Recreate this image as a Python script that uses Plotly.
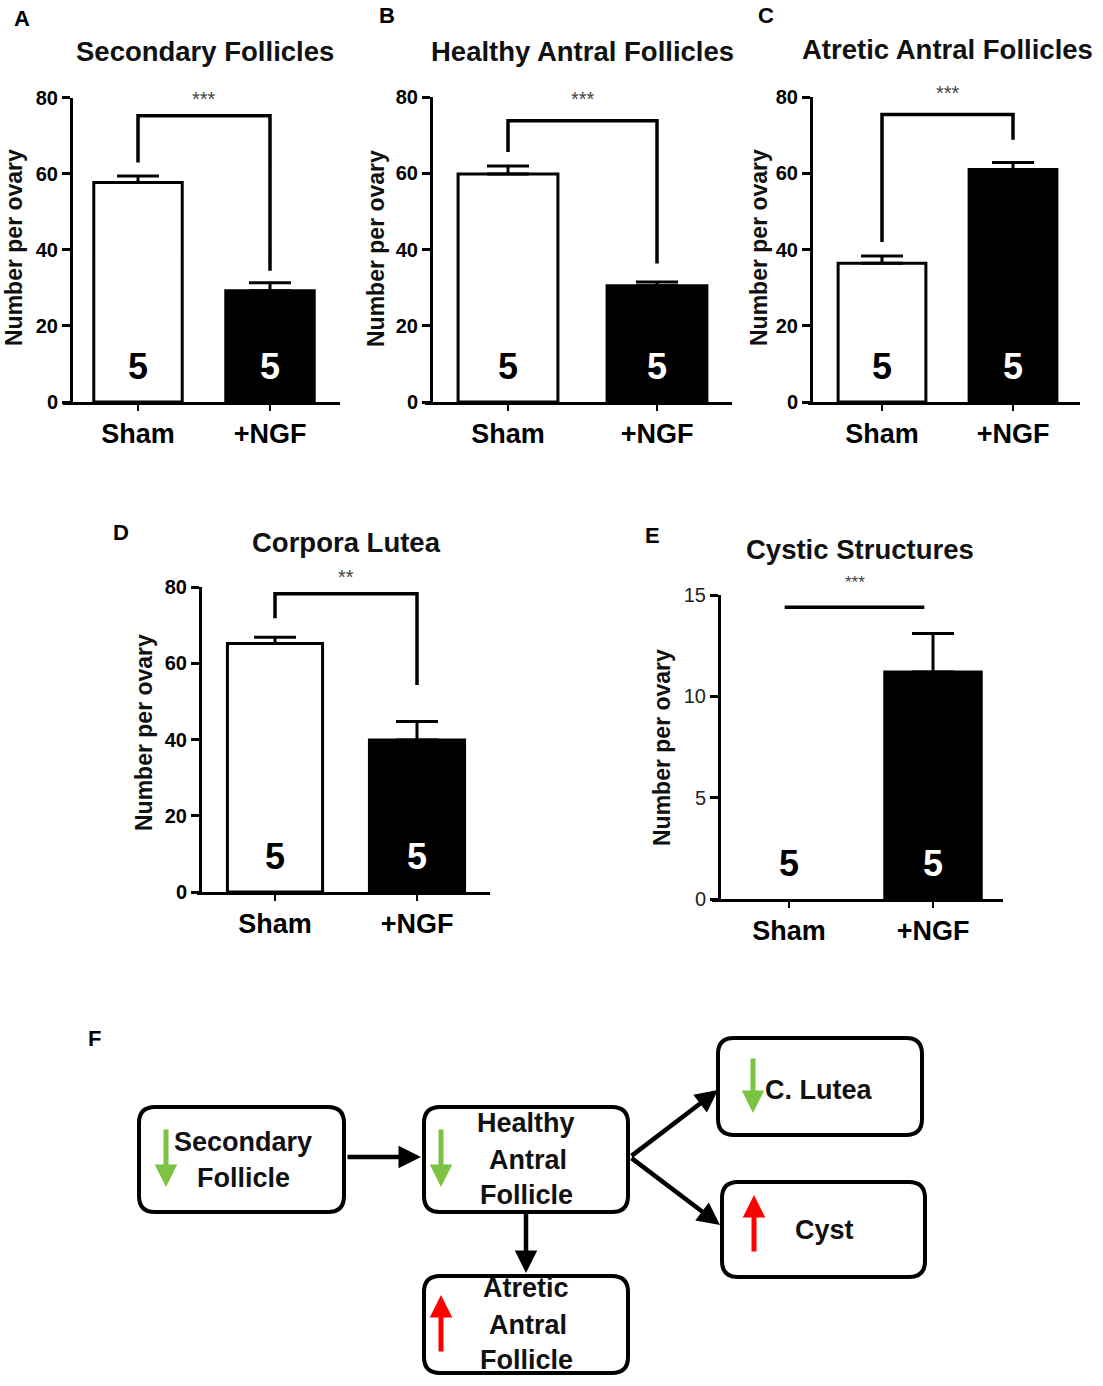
import plotly.graph_objects as go

W, H = 1103, 1386

# ---------------- data ----------------
categories = ["Sham", "+NGF"]
panel_titles = ["Secondary Follicles", "Healthy Antral Follicles",
                "Atretic Antral Follicles", "Corpora Lutea", "Cystic Structures"]
panel_letters = ["A", "B", "C", "D", "E"]
sham_mean = [57.7, 59.8, 36.4, 65.2, 0.0]
ngf_mean = [29.2, 30.5, 61.0, 39.9, 11.2]
sham_sem = [1.7, 2.1, 1.9, 1.6, 0.0]
ngf_sem = [2.1, 1.0, 1.8, 4.8, 1.9]
n_per_group = [5, 5, 5, 5, 5]
sig_labels = ["***", "***", "***", "**", "***"]
bracket_top = [75.2, 73.8, 75.4, 78.2, 14.4]
bracket_left_end = [62.9, 65.6, 42.0, 71.8, 14.4]
bracket_right_end = [34.5, 36.3, 68.8, 54.3, 14.4]
bracket_x = [[0, 1], [0, 1], [0, 1], [0, 1], [-0.03, 0.94]]
y_max = [80, 80, 80, 80, 15]
y_ticks = [[0, 20, 40, 60, 80]] * 4 + [[0, 5, 10, 15]]
y_title = "Number per ovary"

# flowchart content
flow_boxes_text = {
    "sec": ["Secondary", "Follicle"],
    "hea": ["Healthy", "Antral", "Follicle"],
    "atr": ["Atretic", "Antral", "Follicle"],
    "lut": ["C. Lutea"],
    "cys": ["Cyst"],
}
flow_change = {"sec": "down", "hea": "down", "atr": "up", "lut": "down", "cys": "up"}

# ---------------- layout helpers (pixels) ----------------
def px(x):
    return x / W

def py(y):
    return 1 - y / H

# per panel: x-axis start, x-axis end, y-axis x, y0 px, ytop px, sham px, ngf px
panel_geo = [
    (63, 340, 71, 402, 97.5, 138, 270),
    (425, 732, 431, 402, 97, 508, 657),
    (808, 1080, 811, 402, 97, 882, 1013),
    (197, 490, 200, 892, 587, 275, 417),
    (712, 1003, 719, 899, 595, 789, 933),
]
star_shift = [17, 22, 22, 17, 25]
star_size = [20, 20, 20, 20, 17]
letter_pos = [(22, 18), (387, 16), (766, 15), (121, 532), (652, 535)]
title_pos = [(205, 51), (582, 51), (947, 50), (346, 542), (860, 550)]
ytitle_pos = [(14, 248), (376, 249), (759, 248), (144, 733), (662, 748)]

BOLD = dict(family="Liberation Sans, Arial, sans-serif", weight="bold", color="black")

fig = go.Figure()
annotations = []
shapes = []
layout_axes = {}

for i in range(5):
    xs, xe, yax, y0p, ytp, sp, npx = panel_geo[i]
    d = npx - sp
    xr = [(xs - sp) / d, (xe - sp) / d]
    xa = "x" if i == 0 else f"x{i+1}"
    ya = "y" if i == 0 else f"y{i+1}"
    xkey = "xaxis" if i == 0 else f"xaxis{i+1}"
    ykey = "yaxis" if i == 0 else f"yaxis{i+1}"

    means = (sham_mean[i], ngf_mean[i])
    sems = (sham_sem[i], ngf_sem[i])
    fills = ("white", "black")
    for j in range(2):
        has_bar = means[j] > 0
        fig.add_trace(go.Bar(
            x=[j], y=[means[j]], width=0.67,
            marker=dict(color=fills[j], line=dict(color="black", width=3 if has_bar else 0)),
            error_y=dict(type="data", symmetric=False, array=[sems[j]], arrayminus=[0],
                         color="black", thickness=3, width=21, visible=has_bar),
            xaxis=xa, yaxis=ya, hoverinfo="skip", showlegend=False))

    bx0, bx1 = bracket_x[i]
    fig.add_trace(go.Scatter(
        x=[bx0, bx0, bx1, bx1],
        y=[bracket_left_end[i], bracket_top[i], bracket_top[i], bracket_right_end[i]],
        mode="lines", line=dict(color="black", width=3.5),
        xaxis=xa, yaxis=ya, hoverinfo="skip", showlegend=False))

    tick_font = dict(BOLD, size=20)
    if i == 4:
        tick_font = dict(family="Liberation Sans, Arial, sans-serif", size=20, color="#222")

    layout_axes[xkey] = dict(
        domain=[px(xs), px(xe)], range=xr, anchor=ya,
        tickmode="array", tickvals=[0, 1], ticktext=categories,
        ticks="outside", ticklen=6, tickwidth=2.5, tickcolor="black",
        showline=True, linewidth=3, linecolor="black",
        showgrid=False, zeroline=False, fixedrange=True,
        tickfont=dict(BOLD, size=27), ticklabelstandoff=0, automargin=False)
    layout_axes[ykey] = dict(
        domain=[py(y0p), py(ytp)], range=[0, y_max[i]], anchor="free", position=px(yax),
        tickmode="array", tickvals=y_ticks[i],
        ticks="outside", ticklen=8, tickwidth=3, tickcolor="black",
        showline=True, linewidth=3, linecolor="black",
        showgrid=False, zeroline=False, fixedrange=True, tickfont=tick_font,
        automargin=False)

    # significance stars
    annotations.append(dict(
        x=(bx0 + bx1) / 2, y=bracket_top[i], xref=xa, yref=ya, text=sig_labels[i],
        showarrow=False, yshift=star_shift[i], xanchor="center", yanchor="middle",
        font=dict(family="Liberation Sans, Arial, sans-serif", size=star_size[i], color="#444")))
    # n labels
    for j, col in enumerate(["black", "white"]):
        annotations.append(dict(
            x=j, y=0.117, xref=xa, yref=f"{ya} domain", text=str(n_per_group[i]),
            showarrow=False, xanchor="center", yanchor="middle",
            font=dict(BOLD, size=36, color=col)))
    # title
    tx, ty = title_pos[i]
    annotations.append(dict(x=px(tx), y=py(ty), xref="paper", yref="paper",
                            text=panel_titles[i], showarrow=False,
                            xanchor="center", yanchor="middle",
                            font=dict(BOLD, size=27.5, color="#111")))
    # panel letter
    lx, ly = letter_pos[i]
    annotations.append(dict(x=px(lx), y=py(ly), xref="paper", yref="paper",
                            text=panel_letters[i], showarrow=False,
                            xanchor="center", yanchor="middle", font=dict(BOLD, size=22)))
    # y title
    yx, yy = ytitle_pos[i]
    annotations.append(dict(x=px(yx), y=py(yy), xref="paper", yref="paper",
                            text=y_title, showarrow=False, textangle=-90,
                            xanchor="center", yanchor="middle",
                            font=dict(BOLD, size=23, color="#111")))

# ---------------- panel F flowchart ----------------
annotations.append(dict(x=px(94), y=py(1038), xref="paper", yref="paper", text="F",
                        showarrow=False, xanchor="center", yanchor="middle",
                        font=dict(BOLD, size=22)))

box_geo = {
    "sec": (139, 1107, 344, 1212),
    "hea": (424, 1107, 628, 1212),
    "atr": (424, 1276, 628, 1373),
    "lut": (718, 1038, 922, 1135),
    "cys": (722, 1182, 925, 1277),
}
text_geo = {
    "sec": [(243, 1142), (243, 1178)],
    "hea": [(526, 1123), (528, 1160), (526, 1195)],
    "atr": [(526, 1288), (528, 1325), (526, 1360)],
    "lut": [(818, 1090)],
    "cys": [(824, 1230)],
}
change_arrow_geo = {
    "sec": (166, 1128, 1187),
    "hea": (441, 1128, 1187),
    "atr": (441, 1295, 1353),
    "lut": (753, 1057, 1113),
    "cys": (754, 1195, 1253),
}


def rrect(x0, y0, x1, y1, r):
    pts = [
        ("M", [(x0 + r, y0)]), ("L", [(x1 - r, y0)]), ("Q", [(x1, y0), (x1, y0 + r)]),
        ("L", [(x1, y1 - r)]), ("Q", [(x1, y1), (x1 - r, y1)]),
        ("L", [(x0 + r, y1)]), ("Q", [(x0, y1), (x0, y1 - r)]),
        ("L", [(x0, y0 + r)]), ("Q", [(x0, y0), (x0 + r, y0)]),
    ]
    s = ""
    for cmd, ps in pts:
        s += cmd + " " + " ".join(f"{px(a):.5f},{py(b):.5f}" for a, b in ps) + " "
    return s + "Z"


for key, (x0, y0, x1, y1) in box_geo.items():
    shapes.append(dict(type="path", path=rrect(x0, y0, x1, y1, 16), xref="paper", yref="paper",
                       line=dict(color="black", width=4), fillcolor="white", layer="below"))
    for line_text, (tx, ty) in zip(flow_boxes_text[key], text_geo[key]):
        annotations.append(dict(x=px(tx), y=py(ty), xref="paper", yref="paper", text=line_text,
                                showarrow=False, xanchor="center", yanchor="middle",
                                font=dict(BOLD, size=27, color="#111")))

for key, (ax_, ytop, ybot) in change_arrow_geo.items():
    if flow_change[key] == "down":
        head, tail, col = ybot, ytop, "#7dc242"
    else:
        head, tail, col = ytop, ybot, "#ff0000"
    annotations.append(dict(x=px(ax_), y=py(head), xref="paper", yref="paper", text="",
                            showarrow=True, ax=0, ay=tail - head, arrowhead=2, arrowsize=0.9,
                            arrowwidth=5, arrowcolor=col, standoff=0))

flow_links = [((346, 1157), (421, 1157)), ((526, 1212), (526, 1273)),
              ((630, 1157), (718, 1090)), ((630, 1157), (720, 1225))]
for (tx, ty), (hx, hy) in flow_links:
    annotations.append(dict(x=px(hx), y=py(hy), xref="paper", yref="paper", text="",
                            showarrow=True, ax=tx - hx, ay=ty - hy, arrowhead=2, arrowsize=1.0,
                            arrowwidth=4.5, arrowcolor="black", standoff=0))

fig.update_layout(
    width=W, height=H, margin=dict(l=0, r=0, t=0, b=0, pad=0, autoexpand=False),
    paper_bgcolor="white", plot_bgcolor="rgba(0,0,0,0)",
    showlegend=False, barmode="overlay",
    annotations=annotations, shapes=shapes, **layout_axes)

fig.write_html("out.html",
               config={"displayModeBar": False, "staticPlot": True},
               post_script="document.body.style.margin='0';document.body.style.padding='0';"
                           "document.documentElement.style.overflow='hidden';")
